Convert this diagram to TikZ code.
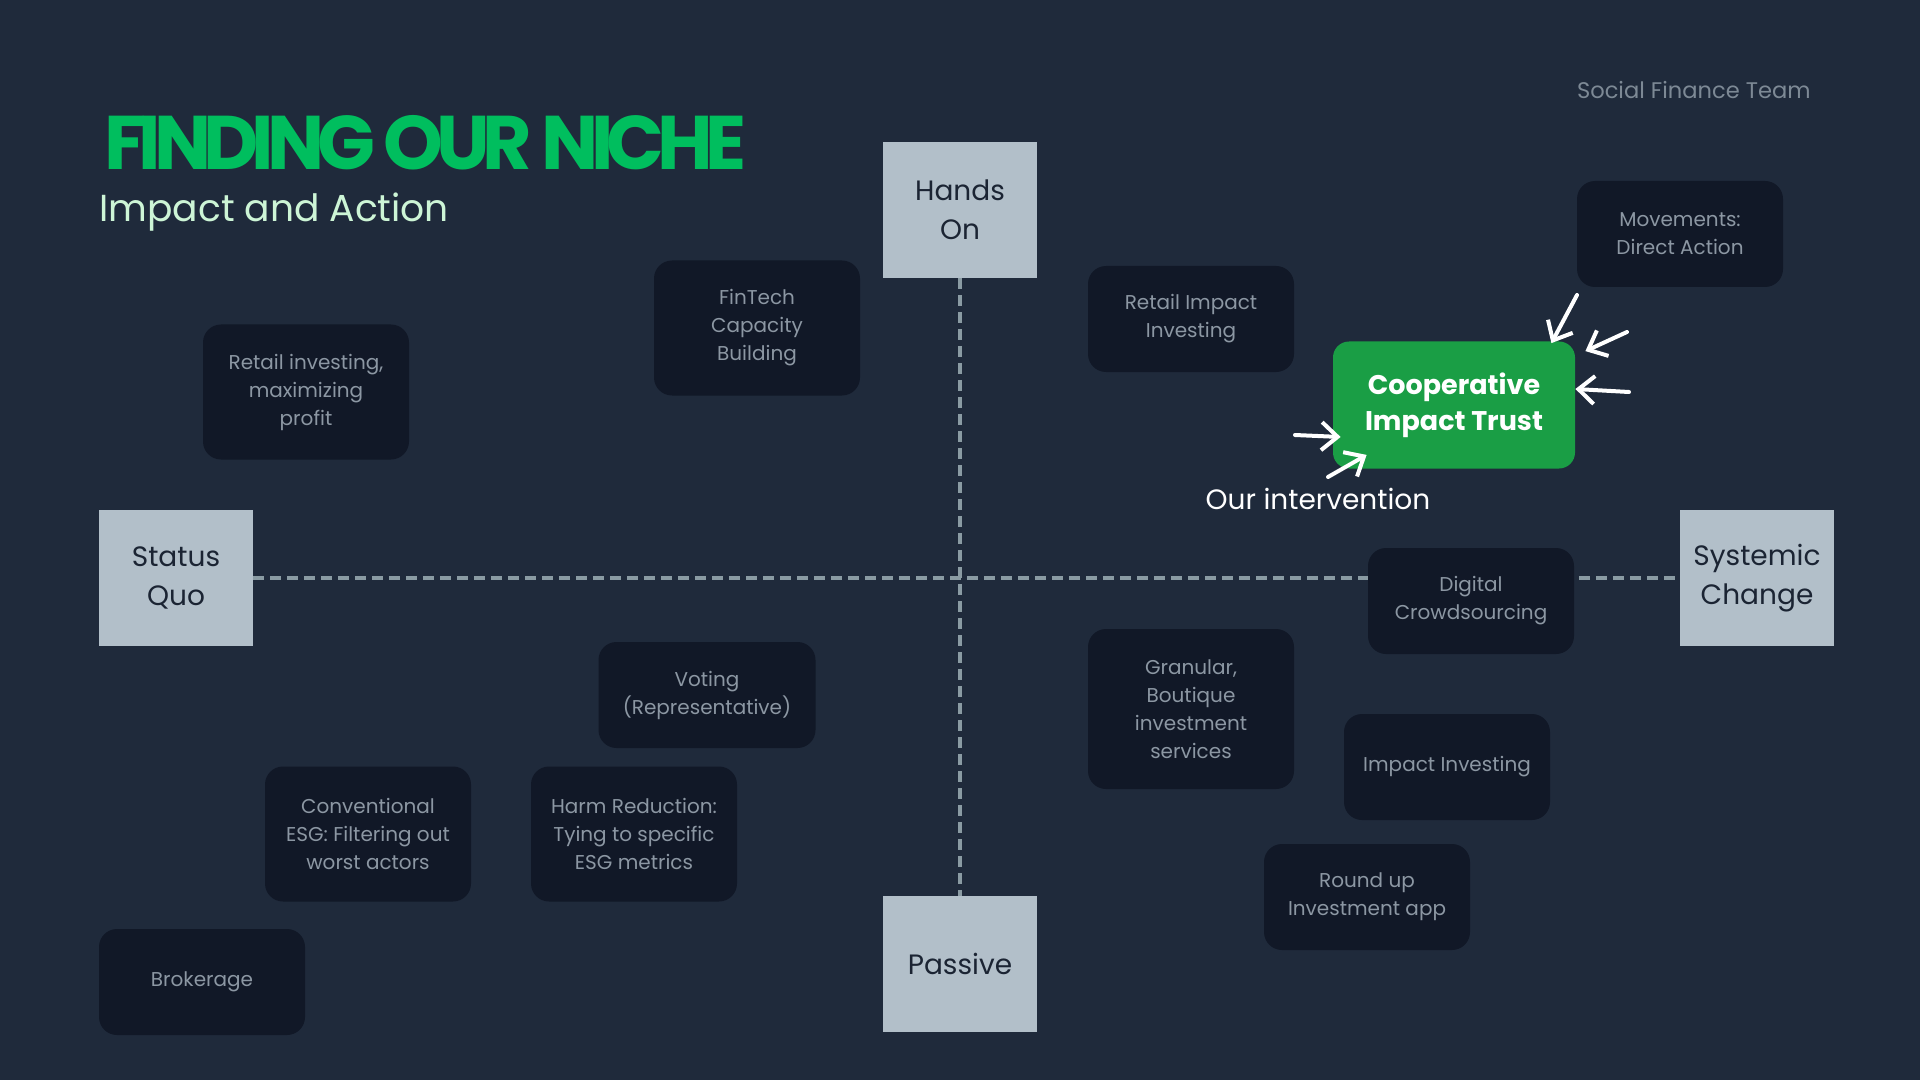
\documentclass[tikz,border=0pt]{standalone}
\usepackage{fontspec}
\setmainfont{Poppins}
\newfontfamily\titlefont[LetterSpace=-9.5]{Poppins}
\usetikzlibrary{arrows.meta,positioning}

\definecolor{bgc}{HTML}{1F2A3B}
\definecolor{boxc}{HTML}{111827}
\definecolor{boxtxt}{HTML}{8C97A3}
\definecolor{axisc}{HTML}{B2BFC9}
\definecolor{axistxt}{HTML}{1B2433}
\definecolor{dashc}{HTML}{8A9BA3}
\definecolor{titlec}{HTML}{00BE5E}
\definecolor{subc}{HTML}{CDF5D6}
\definecolor{coopc}{HTML}{1A9E45}
\definecolor{teamc}{HTML}{7D8995}

\begin{document}
\begin{tikzpicture}[
  x=0.5pt,y=-0.5pt,
  idea/.style={fill=boxc, rounded corners=9pt, align=center, minimum width=103pt, minimum height=53pt, inner sep=2pt, text=boxtxt, font=\fontsize{10}{14}\selectfont},
  pole/.style={fill=axisc, align=center, minimum width=77pt, minimum height=68pt, inner sep=2pt, text=axistxt, font=\fontsize{14}{19.5}\selectfont},
  coopbox/.style={fill=coopc, rounded corners=8pt, align=center, minimum width=121pt, minimum height=63.5pt, text=white, font=\fontsize{13.5}{18}\selectfont\bfseries},
  axisline/.style={dashc, line width=1.6pt, dash pattern=on 5.5pt off 3pt},
  hand/.style={white, line width=2pt, line cap=round, -{Straight Barb[length=8pt,width=14pt,line width=2pt]}}
]
\fill[bgc] (0,0) rectangle (1920,1080);
\useasboundingbox (0,0) rectangle (1920,1080);

% header
\node[anchor=base west, inner sep=0, text=titlec, font=\titlefont\fontsize{38}{38}\selectfont\bfseries] (title) at (104,170) {FINDING OUR NICHE};
\node[anchor=base west, inner sep=0, text=subc, font=\fontsize{18.8}{22}\selectfont] (subtitle) at (99,222) {Impact and Action};
\node[anchor=east, inner sep=0, text=teamc, font=\fontsize{11.3}{14}\selectfont] (team) at (1811,90) {Social Finance Team};

% axes
\node[pole] (handson) at (960,210) {Hands\\On};
\node[pole] (passive) at (960,964) {Passive};
\node[pole] (statusquo) at (176,578) {Status\\Quo};
\node[pole] (systemic) at (1757,578) {Systemic\\Change};
\draw[axisline] (statusquo) -- (systemic);
\draw[axisline] (handson) -- (passive);

% ideas
\node[idea, minimum height=67.5pt] (fintech) at (757,328) {FinTech\\Capacity\\Building};
\node[idea, minimum height=67.5pt] (retail) at (306,392) {Retail investing,\\maximizing\\profit};
\node[idea] (retimpact) at (1191,319) {Retail Impact\\Investing};
\node[idea] (movements) at (1680,234) {Movements:\\Direct Action};
\node[idea] (digital) at (1471,601) {Digital\\Crowdsourcing};
\node[idea, minimum width=108.5pt] (voting) at (707,695) {Voting\\(Representative)};
\node[idea, minimum height=80pt] (granular) at (1191,709) {Granular,\\Boutique\\investment\\services};
\node[idea] (impinv) at (1447,767) {Impact Investing};
\node[idea, minimum height=67.5pt] (esg) at (368,834) {Conventional\\ESG: Filtering out\\worst actors};
\node[idea, minimum height=67.5pt] (harm) at (634,834) {Harm Reduction:\\Tying to specific\\ESG metrics};
\node[idea] (roundup) at (1367,897) {Round up\\Investment app};
\node[idea] (broker) at (202,982) {Brokerage};

% our intervention
\node[coopbox] (coop) at (1454,405) {Cooperative\\Impact Trust};
\node[text=white, font=\fontsize{14}{16}\selectfont, inner sep=0] (ours) at (1318,499) {Our intervention};

\coordinate (tipA) at ([xshift=-12pt,yshift=-1pt]coop.north east);
\coordinate (tipB) at ([xshift=5pt,yshift=-5pt]coop.north east);
\coordinate (tipC) at ([yshift=8pt]coop.east);
\coordinate (tipD) at ([xshift=4pt,yshift=-16pt]coop.west);
\coordinate (tipE) at ([xshift=17pt,yshift=7pt]coop.south west);
\coordinate (inA) at (1577,295);
\coordinate (inB) at (1627,332);
\coordinate (inC) at (1629,392);
\coordinate (inD) at (1295,435);
\coordinate (inE) at (1328,477);
\draw[hand] (inA) -- (tipA);
\draw[hand] (inB) -- (tipB);
\draw[hand] (inC) -- (tipC);
\draw[hand] (inD) -- (tipD);
\draw[hand] (inE) -- (tipE);
\end{tikzpicture}
\end{document}
